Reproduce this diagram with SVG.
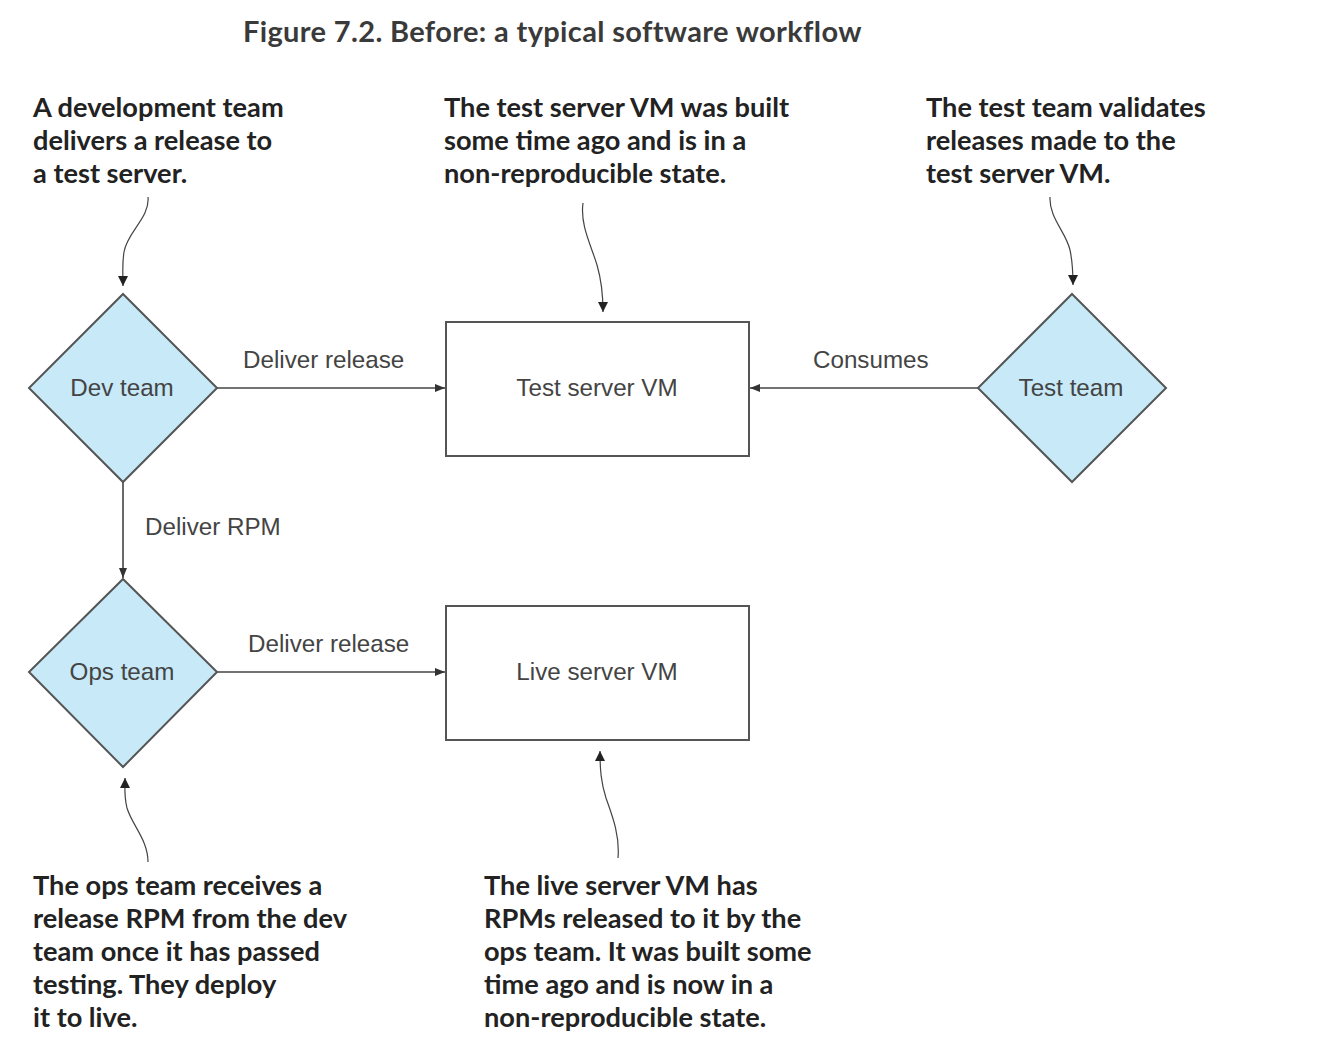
<svg xmlns="http://www.w3.org/2000/svg" width="1340" height="1060" viewBox="0 0 1340 1060">
<defs>
<style>
.title{font-family:Lato,"Liberation Sans",sans-serif;font-weight:bold;font-size:29px;letter-spacing:0.35px;fill:#3a3a3a}
.note{font-family:Lato,"Liberation Sans",sans-serif;font-weight:bold;font-size:27.2px;fill:#222}
.lbl{font-family:"Liberation Sans",Arial,sans-serif;font-size:24.2px;fill:#444}
.dia{fill:#c7e9f8;stroke:#555;stroke-width:2}
.box{fill:#fff;stroke:#555;stroke-width:2}
.conn{fill:none;stroke:#444;stroke-width:1.6}
.ann{fill:none;stroke:#444;stroke-width:1.2}
</style>
<marker id="ah" viewBox="0 0 10 8" refX="10" refY="4" markerWidth="10" markerHeight="8" markerUnits="userSpaceOnUse" orient="auto">
<path d="M0,0 L10,4 L0,8 z" fill="#333"/>
</marker>
<marker id="ah2" viewBox="0 0 10 10" refX="10" refY="5" markerWidth="10" markerHeight="10" markerUnits="userSpaceOnUse" orient="auto">
<path d="M0,0 L10,5 L0,10 z" fill="#222"/>
</marker>
</defs>
<rect width="1340" height="1060" fill="#fff"/>
<text class="title" x="243" y="42">Figure 7.2. Before: a typical software workflow</text>

<g id="connectors">
<line class="conn" x1="217" y1="388" x2="445" y2="388" marker-end="url(#ah)"/>
<line class="conn" x1="978" y1="388" x2="750" y2="388" marker-end="url(#ah)"/>
<line class="conn" x1="123" y1="482" x2="123" y2="578" marker-end="url(#ah)"/>
<line class="conn" x1="217" y1="672" x2="445" y2="672" marker-end="url(#ah)"/>
<text class="lbl" x="243" y="368">Deliver release</text>
<text class="lbl" x="813" y="368">Consumes</text>
<text class="lbl" x="145" y="535">Deliver RPM</text>
<text class="lbl" x="248" y="652">Deliver release</text>
</g>

<g id="annotations">
<path class="ann" d="M148,197 C150,218 127,232 124,252 C122,264 123,272 123,286" marker-end="url(#ah2)"/>
<path class="ann" d="M583,203 C580,225 591,245 597,265 C602,282 603,296 603,312" marker-end="url(#ah2)"/>
<path class="ann" d="M1050,197 C1049,218 1066,232 1070,250 C1073,264 1073,272 1073,285" marker-end="url(#ah2)"/>
<path class="ann" d="M148,862 C148,840 132,825 127,808 C124,796 125,790 125,778" marker-end="url(#ah2)"/>
<path class="ann" d="M618,858 C620,835 612,815 606,798 C601,782 600,770 600,751" marker-end="url(#ah2)"/>
</g>

<g id="dev-team">
<polygon class="dia" points="123,294 217,388 123,482 29,388"/>
<text class="lbl" x="122" y="396" text-anchor="middle">Dev team</text>
</g>
<g id="test-team">
<polygon class="dia" points="1072,294 1166,388 1072,482 978,388"/>
<text class="lbl" x="1071" y="396" text-anchor="middle">Test team</text>
</g>
<g id="ops-team">
<polygon class="dia" points="123,579 217,672 123,767 29,672"/>
<text class="lbl" x="122" y="680" text-anchor="middle">Ops team</text>
</g>
<g id="test-server-vm">
<rect class="box" x="446" y="322" width="303" height="134"/>
<text class="lbl" x="597" y="396" text-anchor="middle">Test server VM</text>
</g>
<g id="live-server-vm">
<rect class="box" x="446" y="606" width="303" height="134"/>
<text class="lbl" x="597" y="680" text-anchor="middle">Live server VM</text>
</g>

<g id="note-dev">
<text class="note" x="33" y="117">A development team</text>
<text class="note" x="33" y="150">delivers a release to</text>
<text class="note" x="33" y="183">a test server.</text>
</g>
<g id="note-test-server">
<text class="note" x="444" y="117">The test server VM was built</text>
<text class="note" x="444" y="150">some time ago and is in a</text>
<text class="note" x="444" y="183">non-reproducible state.</text>
</g>
<g id="note-test-team">
<text class="note" x="926" y="117">The test team validates</text>
<text class="note" x="926" y="150">releases made to the</text>
<text class="note" x="926" y="183">test server VM.</text>
</g>
<g id="note-ops">
<text class="note" x="33" y="895">The ops team receives a</text>
<text class="note" x="33" y="928">release RPM from the dev</text>
<text class="note" x="33" y="961">team once it has passed</text>
<text class="note" x="33" y="994">testing. They deploy</text>
<text class="note" x="33" y="1027">it to live.</text>
</g>
<g id="note-live">
<text class="note" x="484" y="895">The live server VM has</text>
<text class="note" x="484" y="928">RPMs released to it by the</text>
<text class="note" x="484" y="961">ops team. It was built some</text>
<text class="note" x="484" y="994">time ago and is now in a</text>
<text class="note" x="484" y="1027">non-reproducible state.</text>
</g>
</svg>
